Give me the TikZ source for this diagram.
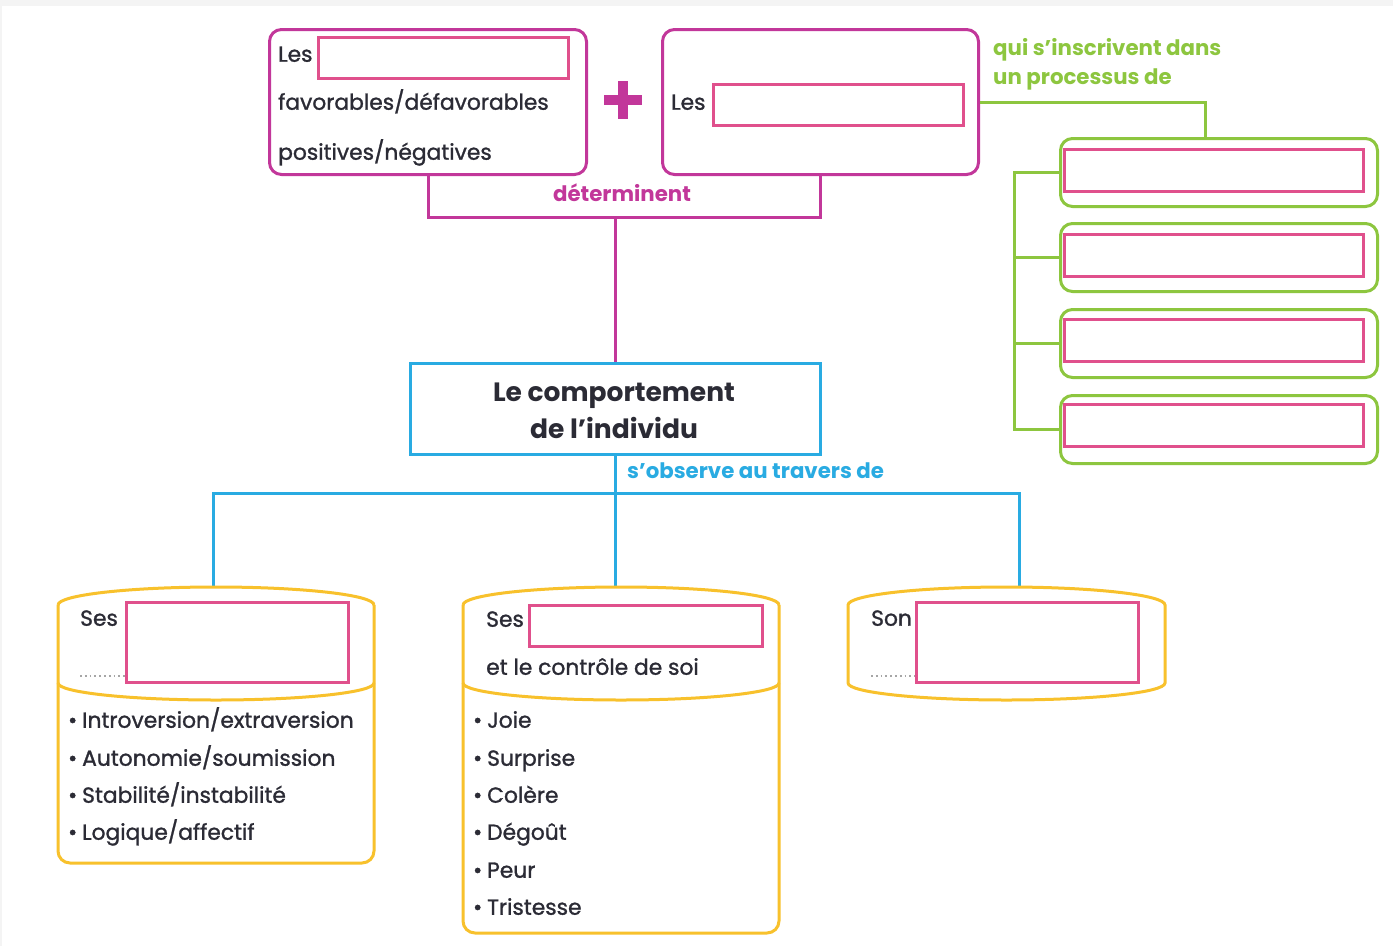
\documentclass[tikz,border=0pt]{standalone}
\usepackage{fontspec}
\setmainfont{Poppins}
\newfontfamily\bodyfont{Poppins}[FakeBold=1.2]
\definecolor{mag}{HTML}{C2379A}
\definecolor{pnk}{HTML}{E0508C}
\definecolor{grn}{HTML}{8DC63F}
\definecolor{cyn}{HTML}{29ABE2}
\definecolor{ylw}{HTML}{F8C12C}
\definecolor{ink}{HTML}{2B2B35}
\definecolor{bgg}{HTML}{F4F4F4}
\tikzset{
  magbox/.style={draw=mag, line width=3, rounded corners=12, minimum width=#1, minimum height=145, anchor=north west, inner sep=0},
  fillbox/.style={draw=pnk, line width=2.5, fill=white, anchor=north west, inner sep=0},
  grnbox/.style={draw=grn, line width=3, rounded corners=12, minimum width=317, minimum height=68, anchor=north west, inner sep=0},
  cenbox/.style={draw=cyn, line width=3, minimum width=410, minimum height=91, anchor=north west, inner sep=0},
  ghost/.style={minimum width=#1, anchor=north west, inner sep=0},
  magline/.style={draw=mag, line width=3},
  grnline/.style={draw=grn, line width=3},
  cynline/.style={draw=cyn, line width=3},
  ylwline/.style={draw=ylw, line width=3},
  dotline/.style={draw=gray!70, line width=1.8, dash pattern=on 1.8pt off 3pt},
  txt/.style={text=ink, font=\bodyfont\fontsize{21.8}{26}\selectfont, anchor=mid west, inner sep=0},
  lbl/.style={font=\bfseries\fontsize{21.3}{29}\selectfont, inner sep=0},
}
\begin{document}
\begin{tikzpicture}[x=1pt,y=-1pt]
\useasboundingbox (0,0) rectangle (1393,946);
\fill[bgg] (0,0) rectangle (1393,946);
\fill[white] (2,6) rectangle (1393,946);

% top boxes
\node[magbox=317] (A) at (268,28) {};
\node[fillbox, minimum width=250, minimum height=41] (Af) at (317,36) {};
\node[txt] (At1) at (278,59) {Les};
\node[txt] (At2) at (278,107) {favorables/défavorables};
\node[txt] (At3) at (278,157) {positives/négatives};

\draw[mag, line width=10] (604,100) -- (642,100);
\draw[mag, line width=10] (623,81) -- (623,119);

\node[magbox=316] (B) at (661,28) {};
\node[fillbox, minimum width=250, minimum height=41] (Bf) at (712,83) {};
\node[txt] (Bt) at (671,107) {Les};

% determinent bracket
\coordinate (mb) at (615,217);
\draw[magline] (A.south) |- (mb) -| (B.south);
\node[lbl, text=mag] (det) at (622,193) {déterminent};

% central box
\node[cenbox] (C) at (409,362) {};
\node[font=\bfseries\fontsize{26.5}{37}\selectfont, text=ink, align=center, inner sep=0] (Ct) at (614,411) {Le comportement\\de l’individu};
\draw[magline] (mb) -- (mb |- C.north);

% green processus
\node[grnbox] (G1) at (1059,137) {};
\node[grnbox] (G2) at (1059,222) {};
\node[grnbox] (G3) at (1059,308) {};
\node[grnbox] (G4) at (1059,394) {};
\foreach \i/\y in {1/148,2/233,3/318,4/403}
  \node[fillbox, minimum width=299, minimum height=42] (G\i f) at (1063,\y) {};
\draw[grnline] (B.east) -| ([xshift=-13.5]G1.north);
\draw[grnline] (G1.west) -- ++(-45,0) coordinate (gv1) |- (G4.west);
\draw[grnline] (G2.west) -- (G2.west -| gv1);
\draw[grnline] (G3.west) -- (G3.west -| gv1);
\node[lbl, text=grn, align=left, anchor=north west] (proc) at (993,38) {qui s’inscrivent dans\\un processus de};

% cyan connectors
\node[ghost=316, minimum height=276] (L) at (58,587) {};
\node[ghost=316, minimum height=346] (M) at (463,587) {};
\node[ghost=317, minimum height=113] (R) at (848,587) {};
\coordinate (cc) at (615,493);
\coordinate (cl) at (213,493);
\coordinate (cr) at (1019,493);
\draw[cynline] (C.south -| cc) -- (cc);
\draw[cynline] (cl |- L.north) -- (cl) -- (cr) -- (cr |- R.north);
\draw[cynline] (cc) -- (cc |- M.north);
\node[lbl, text=cyn, anchor=mid west] (obs) at (627,476) {s’observe au travers de};

% left cylinder
\draw[ylwline] (58,605) arc[start angle=180, end angle=0, x radius=158pt, y radius=18pt];
\draw[ylwline, rounded corners=12] (374,605) -- (374,863) -- (58,863) -- (58,605);
\draw[ylwline] (58,683) arc[start angle=180, end angle=360, x radius=158pt, y radius=17pt];
\node[fillbox, minimum width=222, minimum height=80] (Lf) at (125,601) {};
\node[txt] (Lt) at (80,623) {Ses};
\draw[dotline] (80,676) -- (Lf.west |- 0,676);
\foreach \k/\y/\t in {1/725/{Introversion/extraversion}, 2/763/{Autonomie/soumission}, 3/800/{Stabilité/instabilité}, 4/837/{Logique/affectif}}
  \node[txt] (Lb\k) at (68,\y) {•\hspace{5pt}\t};

% middle cylinder
\draw[ylwline] (463,605) arc[start angle=180, end angle=0, x radius=158pt, y radius=18pt];
\draw[ylwline, rounded corners=12] (779,605) -- (779,933) -- (463,933) -- (463,605);
\draw[ylwline] (463,683) arc[start angle=180, end angle=360, x radius=158pt, y radius=17pt];
\node[fillbox, minimum width=233, minimum height=41] (Mf) at (528,604) {};
\node[txt] (Mt1) at (486,624) {Ses};
\node[txt] (Mt2) at (486,672) {et le contrôle de soi};
\foreach \k/\y/\t in {1/725/Joie, 2/763/Surprise, 3/800/Colère, 4/837/Dégoût, 5/875/Peur, 6/912/Tristesse}
  \node[txt] (Mb\k) at (473,\y) {•\hspace{5pt}\t};

% right cylinder (lid only)
\draw[ylwline] (848,683) -- (848,605) arc[start angle=180, end angle=0, x radius=158.5pt, y radius=18pt] -- (1165,683) arc[start angle=0, end angle=-180, x radius=158.5pt, y radius=17pt];
\node[fillbox, minimum width=222, minimum height=80] (Rf) at (915,601) {};
\node[txt] (Rt) at (871,623) {Son};
\draw[dotline] (871,676) -- (Rf.west |- 0,676);
\end{tikzpicture}
\end{document}
